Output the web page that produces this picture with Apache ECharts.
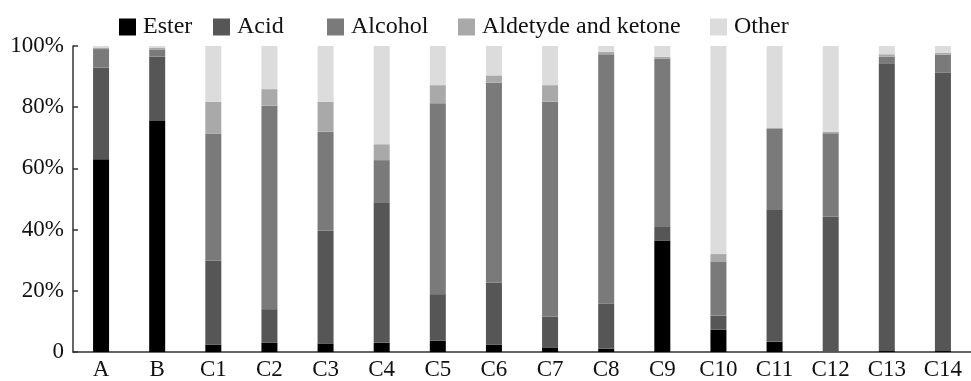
<!DOCTYPE html>
<html>
<head>
<meta charset="utf-8">
<script src="https://cdn.jsdelivr.net/npm/echarts@6/dist/echarts.min.js"></script>
<style>
  html, body { margin: 0; padding: 0; background: #fff; }
  #chart { width: 971px; height: 381px; }
</style>
</head>
<body>
<div id="chart"></div>
<script>
// Sample groups along the x axis
const categories = ['A', 'B', 'C1', 'C2', 'C3', 'C4', 'C5', 'C6', 'C7', 'C8', 'C9', 'C10', 'C11', 'C12', 'C13', 'C14'];

// Relative composition (%) of each compound class per sample
const ester    = [63.0, 75.5,  2.4,  3.0,  2.8,  3.0,  3.7,  2.4,  1.5,  1.1, 36.4,  7.3,  3.4,  0.0,  0.3,  0.3];
const acid     = [30.0, 21.0, 27.4, 11.0, 36.8, 45.9, 15.2, 20.2, 10.0, 14.7,  4.7,  4.6, 43.0, 44.3, 94.1, 91.0];
const alcohol  = [ 6.0,  2.2, 41.5, 66.5, 32.4, 13.8, 62.4, 65.4, 70.3, 81.5, 54.8, 17.5, 26.5, 27.2,  2.1,  5.9];
const aldehyde = [ 0.5,  0.8, 10.5,  5.4,  9.8,  5.2,  5.9,  2.4,  5.4,  0.8,  0.6,  2.6,  0.3,  0.5,  0.8,  0.6];
const other    = [ 0.5,  0.5, 18.2, 14.1, 18.2, 32.1, 12.8,  9.6, 12.8,  1.9,  3.5, 68.0, 26.8, 28.0,  2.7,  2.2];

const seriesNames = ['Ester', 'Acid', 'Alcohol', 'Aldetyde and ketone', 'Other'];
const seriesData = [ester, acid, alcohol, aldehyde, other];
const seriesColors = ['#000000', '#565656', '#7a7a7a', '#a9a9a9', '#dcdcdc'];

// Y axis tick values and their printed labels
const yTicks = [0, 20, 40, 60, 80, 100];
const yTickLabels = ['0', '20%', '40%', '60%', '80%', '100%'];

const FONT = '"Liberation Serif", "Times New Roman", serif';
// Each legend entry is placed on its own so the uneven spacing is kept
const legendLefts = [119, 213, 327, 458, 710];

const chart = echarts.init(document.getElementById('chart'), null, { renderer: 'canvas' });

chart.setOption({
  animation: false,
  backgroundColor: '#ffffff',
  textStyle: { fontFamily: FONT },
  legend: seriesNames.map((name, i) => ({
    data: [name],
    left: legendLefts[i],
    top: 15,
    padding: 0,
    itemWidth: 17,
    itemHeight: 17,
    itemGap: 0,
    icon: 'rect',
    selectedMode: false,
    textStyle: { fontFamily: FONT, fontSize: 24, color: '#111', padding: [0, 0, 0, 2] }
  })),
  grid: { left: 73, top: 46, width: 907, bottom: 27, containLabel: false },
  xAxis: {
    type: 'category',
    data: categories,
    axisLine: { show: true, lineStyle: { color: '#333', width: 1.5 } },
    axisTick: { show: false },
    axisLabel: { fontFamily: FONT, fontSize: 23, color: '#111', margin: 6 }
  },
  yAxis: {
    type: 'value',
    min: 0,
    max: 100,
    interval: 20,
    axisLine: { show: true, lineStyle: { color: '#333', width: 1.5 } },
    axisTick: { show: true, inside: true, length: 5, lineStyle: { color: '#333', width: 1.5 } },
    splitLine: { show: false },
    axisLabel: {
      fontFamily: FONT,
      fontSize: 23,
      color: '#111',
      margin: 9,
      formatter: (v) => yTickLabels[yTicks.indexOf(v)]
    }
  },
  series: seriesNames.map((name, i) => ({
    name,
    type: 'bar',
    stack: 'total',
    barWidth: 16,
    data: seriesData[i],
    itemStyle: { color: seriesColors[i] }
  }))
});
</script>
</body>
</html>
